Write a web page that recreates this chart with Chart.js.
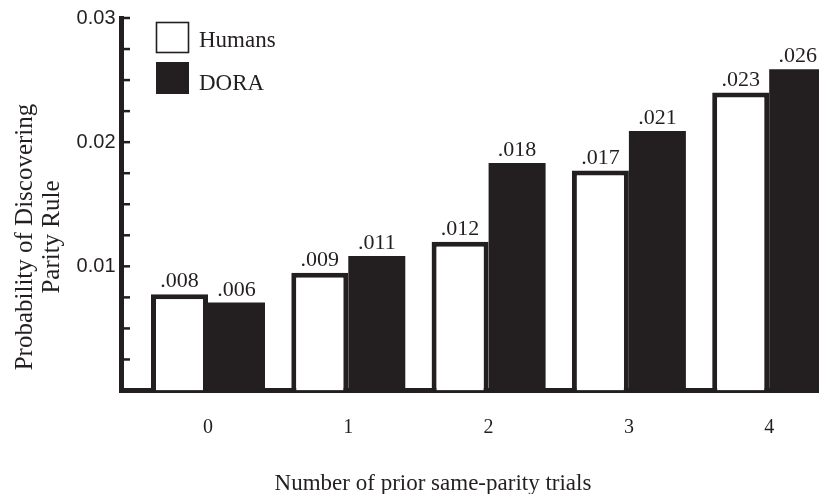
<!DOCTYPE html>
<html>
<head>
<meta charset="utf-8">
<script src="https://cdn.jsdelivr.net/npm/chart.js@4.4.1/dist/chart.umd.min.js"></script>
<style>
  html, body { margin: 0; padding: 0; background: #fff; overflow: hidden; }
</style>
</head>
<body>
<canvas id="chart" width="819" height="494"></canvas>
<script>
// values (bar heights) and the printed labels above them
const CATEGORIES = ['0', '1', '2', '3', '4'];
const SERIES_NAMES = ['Humans', 'DORA'];
const HUMANS = [0.00775, 0.00948, 0.01197, 0.01771, 0.0240];
const DORA = [0.00708, 0.01084, 0.01833, 0.02089, 0.02588];
const HUMANS_LABELS = ['.008', '.009', '.012', '.017', '.023'];
const DORA_LABELS = ['.006', '.011', '.018', '.021', '.026'];
const Y_MAX = 0.03;
const Y_STEP = 0.0025;
const X_TITLE = 'Number of prior same-parity trials';
const Y_TITLE = ['Probability of Discovering', 'Parity Rule'];

const INK = '#231f20';
const SERIF = '"Liberation Serif", "Times New Roman", serif';
const SANS = '"Liberation Sans", Arial, sans-serif';

// short tick marks on the inner side of the y axis
const innerTicks = {
  id: 'innerTicks',
  afterDraw(chart) {
    const { ctx, chartArea, scales: { y } } = chart;
    ctx.save();
    ctx.strokeStyle = INK;
    ctx.lineWidth = 2.5;
    y.ticks.forEach(t => {
      if (t.value <= 0) return;
      const py = y.getPixelForValue(t.value);
      ctx.beginPath();
      ctx.moveTo(chartArea.left + 2, py);
      ctx.lineTo(chartArea.left + 8.5, py);
      ctx.stroke();
    });
    ctx.restore();
  }
};

// printed values above each bar
const valueLabels = {
  id: 'valueLabels',
  afterDatasetsDraw(chart) {
    const { ctx } = chart;
    const texts = [HUMANS_LABELS, DORA_LABELS];
    ctx.save();
    ctx.fillStyle = INK;
    ctx.font = '22px ' + SERIF;
    ctx.textAlign = 'center';
    ctx.textBaseline = 'alphabetic';
    chart.data.datasets.forEach((ds, i) => {
      chart.getDatasetMeta(i).data.forEach((bar, j) => {
        ctx.fillText(texts[i][j], bar.x, bar.y - 7);
      });
    });
    ctx.restore();
  }
};

// legend boxes in the upper left + axis titles
const legendAndTitles = {
  id: 'legendAndTitles',
  afterDraw(chart) {
    const { ctx } = chart;
    ctx.save();
    ctx.strokeStyle = INK;
    ctx.lineWidth = 1.6;
    ctx.fillStyle = '#fff';
    ctx.fillRect(156.5, 22.5, 32, 30);
    ctx.strokeRect(156.5, 22.5, 32, 30);
    ctx.fillStyle = INK;
    ctx.fillRect(156, 62, 33, 32);

    ctx.font = '23px ' + SERIF;
    ctx.textAlign = 'left';
    ctx.textBaseline = 'alphabetic';
    ctx.fillText(SERIES_NAMES[0], 199, 47);
    ctx.fillText(SERIES_NAMES[1], 199, 90);

    ctx.textAlign = 'center';
    ctx.fillText(X_TITLE, 433, 490);

    ctx.font = '25px ' + SERIF;
    ctx.textBaseline = 'middle';
    ctx.translate(0, 237);
    ctx.rotate(-Math.PI / 2);
    ctx.fillText(Y_TITLE[0], 0, 25);
    ctx.fillText(Y_TITLE[1], 0, 52);
    ctx.restore();
  }
};

new Chart(document.getElementById('chart'), {
  type: 'bar',
  data: {
    datasets: [
      { label: SERIES_NAMES[0], data: HUMANS.map((v, i) => ({ x: i, y: v })), backgroundColor: '#ffffff', borderColor: INK, borderWidth: 5, categoryPercentage: 0.8125, barPercentage: 1 },
      { label: SERIES_NAMES[1], data: DORA.map((v, i) => ({ x: i, y: v })), backgroundColor: INK, borderWidth: 0, categoryPercentage: 0.8125, barPercentage: 1 }
    ]
  },
  options: {
    responsive: false,
    devicePixelRatio: 1,
    animation: false,
    layout: { padding: { top: 14, right: 0, bottom: 0, left: 0 } },
    plugins: { legend: { display: false }, tooltip: { enabled: false } },
    scales: {
      x: {
        type: 'linear', min: -0.6165, max: 4.355, offset: false,
        afterBuildTicks: s => { s.ticks = CATEGORIES.map((c, i) => ({ value: i })); },
        afterFit: s => { s.height = 103.5; },
        grid: { display: false, drawTicks: false },
        border: { display: true, color: INK, width: 5 },
        ticks: { callback: v => CATEGORIES[v], font: { family: SERIF, size: 20 }, color: INK, padding: 25, autoSkip: false, maxRotation: 0 }
      },
      y: {
        min: 0, max: Y_MAX,
        afterFit: s => { s.width = 121.5; },
        grid: { display: false, drawTicks: false },
        border: { display: true, color: INK, width: 5 },
        ticks: {
          stepSize: Y_STEP, autoSkip: false, padding: 6, color: INK,
          font: { family: SANS, size: 20 },
          callback: v => {
            const k = v / 0.01;
            return (v > 0 && Math.abs(k - Math.round(k)) < 1e-6) ? v.toFixed(2) : '';
          }
        }
      }
    }
  },
  plugins: [innerTicks, valueLabels, legendAndTitles]
});
</script>
</body>
</html>
